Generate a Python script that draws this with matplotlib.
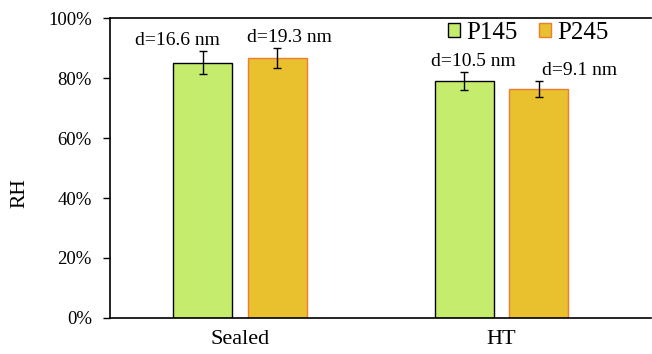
import matplotlib
matplotlib.use("Agg")
import matplotlib.pyplot as plt
import numpy as np
from matplotlib.ticker import PercentFormatter

plt.rcParams['font.family'] = ['Liberation Serif', 'DejaVu Serif']

categories = ["Sealed", "HT"]
series_names = ["P145", "P245"]
p145_values = [85.1, 79.1]
p245_values = [86.6, 76.3]
p145_err = [3.9, 3.0]
p245_err = [3.3, 2.6]
p145_labels = ["d=16.6 nm", "d=10.5 nm"]
p245_labels = ["d=19.3 nm", "d=9.1 nm"]
y_ticks = [0, 20, 40, 60, 80, 100]

fig = plt.figure(figsize=(6.52, 3.54), dpi=100)
ax = fig.add_axes([110/652, 1-318/354, 541/652, 300/354])

x = np.arange(len(categories))
w = 0.2256
off = 0.1425
green = '#C6EC6E'
orange = '#E9C02E'

ax.bar(x - off, p145_values, w, color=green, edgecolor='black', linewidth=1.0,
       label=series_names[0], zorder=2)
ax.bar(x + off, p245_values, w, color=orange, edgecolor='#ED7D31', linewidth=1.0,
       label=series_names[1], zorder=2)
ax.errorbar(x - off, p145_values, yerr=p145_err, fmt='none', ecolor='black',
            elinewidth=1.0, capsize=3, capthick=1.0, zorder=3)
ax.errorbar(x + off, p245_values, yerr=p245_err, fmt='none', ecolor='black',
            elinewidth=1.0, capsize=3, capthick=1.0, zorder=3)

# label offsets in pixels (dx, dy) relative to bar top center
p145_offsets = [(-25.5, 22), (9, 19)]
p245_offsets = [(12.5, 21), (40.5, 18.5)]
for i in range(len(categories)):
    ax.annotate(p145_labels[i], (x[i] - off, p145_values[i]),
                xytext=p145_offsets[i], textcoords='offset pixels',
                ha='center', va='center', fontsize=14)
    ax.annotate(p245_labels[i], (x[i] + off, p245_values[i]),
                xytext=p245_offsets[i], textcoords='offset pixels',
                ha='center', va='center', fontsize=14)

ax.set_xlim(-0.497, 1.572)
ax.set_ylim(0, 100)
ax.set_yticks(y_ticks)
ax.yaxis.set_major_formatter(PercentFormatter(decimals=0))
ax.set_xticks(x)
ax.set_xticklabels(categories, fontsize=16)
ax.tick_params(axis='x', length=0, pad=9)
ax.tick_params(axis='y', length=5, width=1.0, pad=8, labelsize=13.5)

for s in ['left', 'bottom', 'top']:
    ax.spines[s].set_linewidth(1.2)
    ax.spines[s].set_color('black')
ax.spines['right'].set_visible(False)

fig.text(19.5/652, 1-193/354, "RH", rotation=90, ha='center', va='center', fontsize=15.5)

leg = ax.legend(loc='center right', bbox_to_anchor=(609/652, 1-33/354),
                bbox_transform=fig.transFigure, ncol=2, frameon=False,
                fontsize=18, handlelength=0.5, handleheight=0.5,
                handletextpad=0.25, columnspacing=0.85, borderaxespad=0,
                borderpad=0)

fig.savefig("out.png", dpi=100)
